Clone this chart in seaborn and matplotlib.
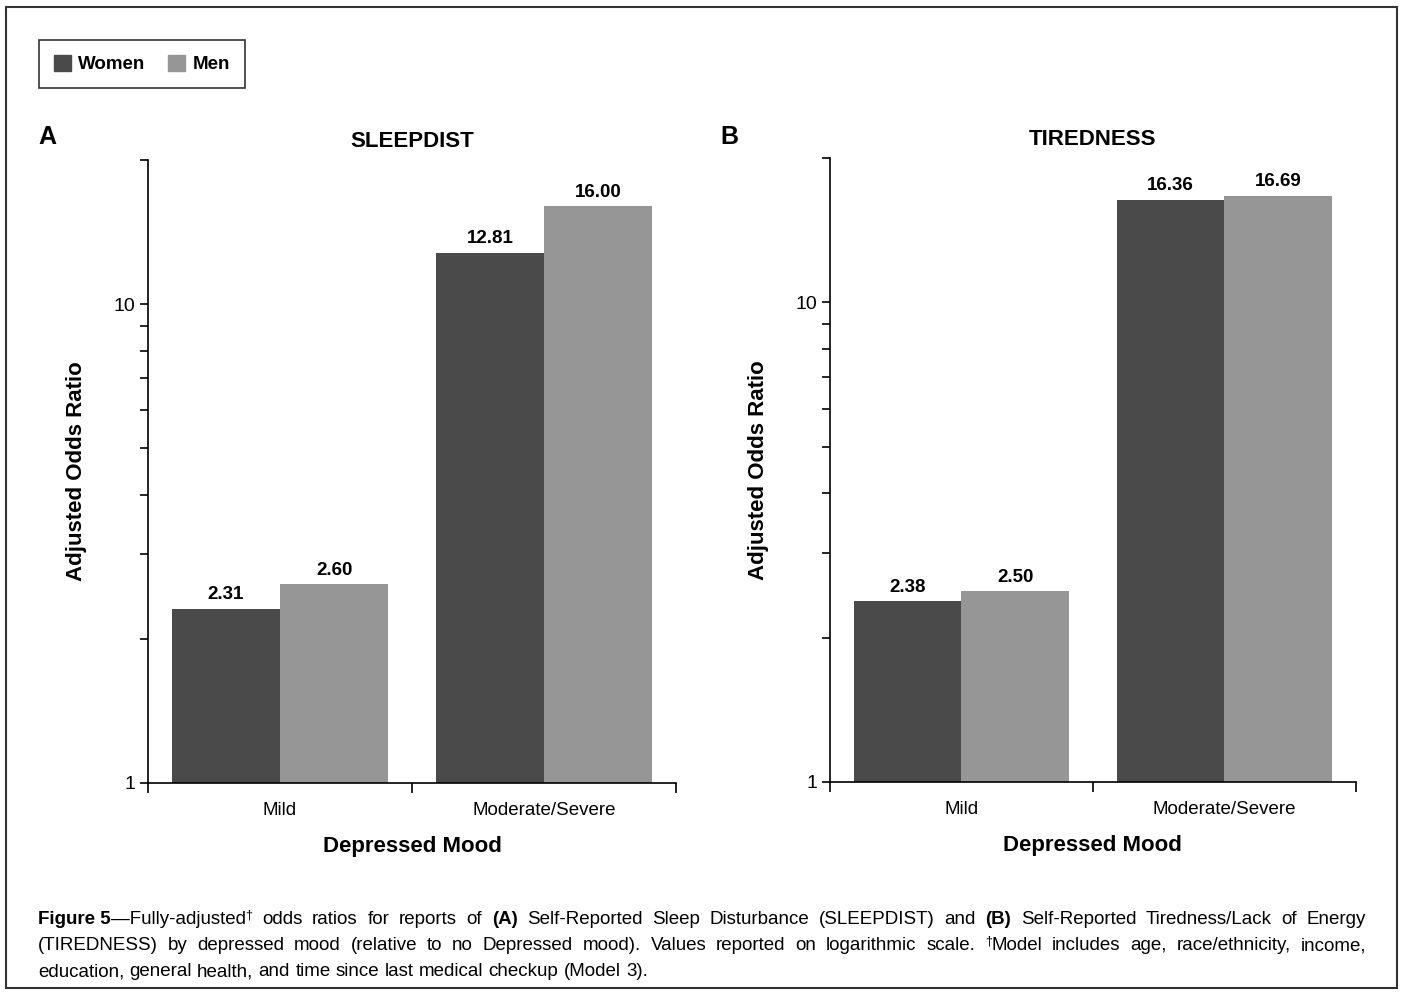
import pandas as pd
import numpy as np
import matplotlib
matplotlib.use("Agg")
import matplotlib.pyplot as plt
import seaborn as sns
from matplotlib.patches import Rectangle
from matplotlib.ticker import NullFormatter

# data
moods = ["Mild", "Moderate/Severe"]
sexes = ["Women", "Men"]
sleep_women = [2.31, 12.81]
sleep_men = [2.60, 16.00]
tired_women = [2.38, 16.36]
tired_men = [2.50, 16.69]

colors = {"Women": "#4a4a4a", "Men": "#969696"}

sns.set_style("ticks")
plt.rcParams['font.family'] = ['Liberation Sans', 'DejaVu Sans']
plt.rcParams['text.color'] = 'black'
plt.rcParams['axes.labelcolor'] = 'black'
plt.rcParams['xtick.color'] = 'black'
plt.rcParams['ytick.color'] = 'black'

fig = plt.figure(figsize=(14.01, 9.94), dpi=100)

def make_df(women, men):
    return pd.DataFrame({
        "mood": moods * 2,
        "sex": ["Women"] * 2 + ["Men"] * 2,
        "odds": women + men,
    })

panels = [
    ("A", "SLEEPDIST", make_df(sleep_women, sleep_men), [0.1056, 0.2123, 0.3769, 0.6268]),
    ("B", "TIREDNESS", make_df(tired_women, tired_men), [0.5924, 0.2133, 0.3754, 0.6278]),
]

for letter, title, df, rect in panels:
    ax = fig.add_axes(rect)
    sns.barplot(data=df, x="mood", y="odds", hue="sex", hue_order=sexes,
                order=moods, palette=colors, width=0.82, saturation=1,
                legend=False, ax=ax, errorbar=None, linewidth=0)
    ax.set_yscale("log")
    ax.set_ylim(1, 20)
    ax.set_xlim(-0.5, 1.5)
    for c in ax.containers:
        ax.bar_label(c, fmt="%.2f", padding=4, fontsize=13.5, fontweight="bold")

    ax.set_yticks([1, 10, 20])
    ax.set_yticklabels(["1", "10", ""])
    ax.set_yticks([2, 3, 4, 5, 6, 7, 8, 9], minor=True)
    ax.yaxis.set_minor_formatter(NullFormatter())
    ax.tick_params(axis="y", which="both", length=6, width=1.2, labelsize=14, pad=3)

    ax.set_xticks([-0.5, 0.5, 1.5])
    ax.set_xticklabels(["", "", ""])
    ax.set_xticks([0, 1], minor=True)
    ax.set_xticklabels(moods, minor=True)
    ax.tick_params(axis="x", which="major", length=7, width=1.2)
    ax.tick_params(axis="x", which="minor", length=0, labelsize=13.5, pad=14)

    for s in ["top", "right"]:
        ax.spines[s].set_visible(False)
    for s in ["left", "bottom"]:
        ax.spines[s].set_linewidth(1.2)
        ax.spines[s].set_color("black")

    ax.set_xlabel("Depressed Mood", fontsize=16, fontweight="bold", labelpad=12)
    ax.set_ylabel("Adjusted Odds Ratio", fontsize=16, fontweight="bold", labelpad=19)
    ax.set_title(title, fontsize=16, fontweight="bold", pad=9)
    fig.text(rect[0] - 0.078, 0.855, letter, fontsize=18, fontweight="bold")

# legend at the top left
handles = [Rectangle((0, 0), 1, 1, color=colors[s]) for s in sexes]
leg = fig.legend(handles, sexes, loc="upper left", bbox_to_anchor=(0.021, 0.969),
                 ncol=2, frameon=True, fancybox=False, handlelength=0.9, handleheight=0.9,
                 handletextpad=0.4, columnspacing=1.2, borderpad=0.8,
                 prop={"weight": "bold", "size": 13.5})
leg.get_frame().set_edgecolor("black")
leg.get_frame().set_linewidth(1.2)

# outer frame
fig.patches.append(Rectangle((0.004, 0.006), 0.993, 0.987, transform=fig.transFigure,
                             fill=False, edgecolor="#333333", linewidth=1.5))

# caption, drawn word by word so lines can be justified
caption = [
    [[("Figure 5", "bold", False), ("\u2014Fully-adjusted", "normal", False), ("\u2020", "normal", True)],
     [("odds", "normal", False)], [("ratios", "normal", False)], [("for", "normal", False)],
     [("reports", "normal", False)], [("of", "normal", False)], [("(A)", "bold", False)],
     [("Self-Reported", "normal", False)], [("Sleep", "normal", False)], [("Disturbance", "normal", False)],
     [("(SLEEPDIST)", "normal", False)], [("and", "normal", False)], [("(B)", "bold", False)],
     [("Self-Reported", "normal", False)], [("Tiredness/Lack", "normal", False)], [("of", "normal", False)],
     [("Energy", "normal", False)]],
    [[(w, "normal", False)] for w in "(TIREDNESS) by depressed mood (relative to no Depressed mood). Values reported on logarithmic scale.".split()]
    + [[("\u2020", "normal", True), ("Model", "normal", False)]]
    + [[(w, "normal", False)] for w in "includes age, race/ethnicity, income,".split()],
    [[(w, "normal", False)] for w in "education, general health, and time since last medical checkup (Model 3).".split()],
]
justify = [True, True, False]
line_y = [0.070, 0.044, 0.018]
x0, x1 = 38 / 1401, 1366 / 1401

renderer = fig.canvas.get_renderer()
W = fig.bbox.width
for words, just, y in zip(caption, justify, line_y):
    items = []
    for word in words:
        parts = []
        for txt, wt, sup in word:
            t = fig.text(0, y + (0.006 if sup else 0), txt, fontsize=9 if sup else 13.5,
                         fontweight=wt, va="baseline")
            parts.append(t)
        widths = [p.get_window_extent(renderer).width / W for p in parts]
        items.append((parts, widths))
    total = sum(sum(w) for _, w in items)
    if just:
        gap = (x1 - x0 - total) / (len(items) - 1)
    else:
        sp = fig.text(0, 0, "a a", fontsize=13.5)
        sp2 = fig.text(0, 0, "aa", fontsize=13.5)
        gap = (sp.get_window_extent(renderer).width - sp2.get_window_extent(renderer).width) / W
        sp.remove(); sp2.remove()
    x = x0
    for parts, widths in items:
        for p, w in zip(parts, widths):
            p.set_x(x)
            x += w
        x += gap

fig.savefig("out.png", dpi=100)
